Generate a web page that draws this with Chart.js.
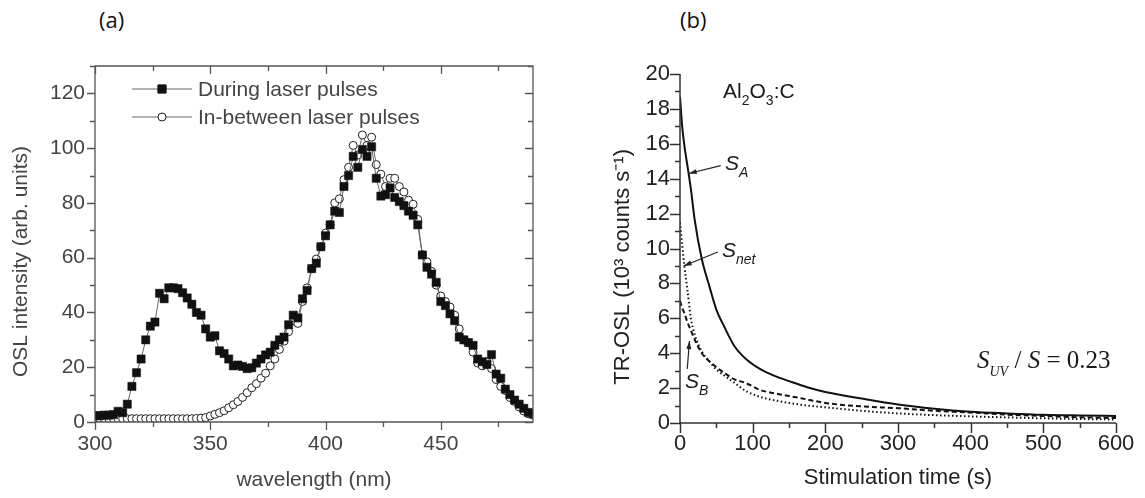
<!DOCTYPE html>
<html>
<head>
<meta charset="utf-8">
<script src="https://cdn.jsdelivr.net/npm/chart.js@4.4.1/dist/chart.umd.min.js"></script>
<style>
  body { margin: 0; background: #fff; width: 1145px; height: 498px; overflow: hidden; position: relative; font-family: "Liberation Sans", Arial, sans-serif; }
  canvas { position: absolute; top: 0; }
  #chartA { left: 0; }
  #chartB { left: 560px; }
  .panel { position: absolute; top: 4px; font-family: "Open Sans", sans-serif; font-size: 22px; color: #111; }
  .note { position: absolute; white-space: nowrap; line-height: 1; color: #1a1a1a; font-size: 21px; }
  .note .sub { position: relative; font-size: 14px; top: 7px; }
  .it { font-style: italic; }
  .serif { font-family: "Liberation Serif", "Times New Roman", serif; font-size: 25px; }
  .serif .sub { font-size: 14px; top: 8px; }
</style>
</head>
<body>
<div class="panel" style="left:99px">(a)</div>
<div class="panel" style="left:680px">(b)</div>

<canvas id="chartA" width="560" height="498"></canvas>
<canvas id="chartB" width="585" height="498"></canvas>

<div class="note" style="left:723px;top:80px">Al<span class="sub">2</span>O<span class="sub">3</span>:C</div>
<div class="note it" style="left:725px;top:152px">S<span class="sub">A</span></div>
<div class="note it" style="left:722px;top:239px">S<span class="sub">net</span></div>
<div class="note it" style="left:685px;top:370px">S<span class="sub">B</span></div>
<div class="note serif" style="left:977px;top:347px"><span class="it">S<span class="sub">UV</span></span> / <span class="it">S</span> = 0.23</div>

<script>
// (a) OSL emission spectrum
const wavelength = [300, 302, 304, 306, 308, 310, 312, 314, 316, 318, 320, 322, 324, 326, 328, 330, 332, 334, 336, 338,
  340, 342, 344, 346, 348, 350, 352, 354, 356, 358, 360, 362, 364, 366, 368, 370, 372, 374, 376, 378,
  380, 382, 384, 386, 388, 390, 392, 394, 396, 398, 400, 402, 404, 406, 408, 410, 412, 414, 416, 418,
  420, 422, 424, 426, 428, 430, 432, 434, 436, 438, 440, 442, 444, 446, 448, 450, 452, 454, 456, 458,
  460, 462, 464, 466, 468, 470, 472, 474, 476, 478, 480, 482, 484, 486, 488, 490];
const duringPulses = [2.3, 2.3, 2.5, 2.5, 2.7, 3.9, 3.4, 6.5, 13, 18, 23, 30, 35, 36.5, 47, 45, 49, 49, 48.7, 47.2,
  45.3, 43, 40, 39, 34, 31, 31.5, 26, 25, 23, 20.5, 20.8, 20.3, 19.5, 19.8, 21.5, 23, 24.5, 25.5, 28,
  30, 31, 35.5, 39, 38, 45, 48, 56, 58, 64, 68, 72, 77, 76.5, 86, 90, 97, 93, 99.5, 97,
  100.5, 89, 82.5, 83, 85.5, 82, 80.5, 79, 77, 75.5, 72, 61, 56.5, 54, 51, 44, 42.5, 39.5, 37, 31,
  30, 29, 28, 23, 22, 21, 24.6, 17.5, 16, 12, 10, 8, 6.5, 5, 3.5, 3];
const betweenPulses = [1.2, 1.2, 1.2, 1.2, 1.2, 1.2, 1.2, 1.2, 1.2, 1.2, 1.2, 1.2, 1.2, 1.2, 1.2, 1.2, 1.2, 1.2, 1.2, 1.2,
  1.2, 1.2, 1.3, 1.4, 1.6, 2.2, 2.8, 3.4, 4.1, 5.2, 6.3, 7.5, 9, 10.7, 12.5, 14, 16, 17.8, 20.5, 23,
  26.5, 29.5, 33, 37, 36, 44, 49, 56, 59.5, 64, 69, 72, 80, 81.5, 88.5, 93, 101, 97.5, 104.8, 101,
  104, 94, 90.5, 86, 89, 89, 86, 84, 81, 79.5, 74, 61, 58.5, 55, 50, 46, 44, 42, 39, 34,
  30, 29, 25.5, 21.5, 20.5, 22, 19.5, 15.5, 13, 11.5, 9, 7.5, 5.5, 4, 3, 2.5];
const yTicksA = [0, 20, 40, 60, 80, 100, 120];
const xTicksA = [300, 350, 400, 450];

// (b) TR-OSL decay curves
const stimTime = [0, 3, 6, 10, 15, 20, 30, 40, 50, 60, 75, 90, 110, 130, 150, 175, 200, 250, 300, 350, 400, 450, 500, 550, 600];
const signalA = [18.7, 17.0, 15.9, 14.8, 13.4, 11.7, 9.4, 7.9, 6.5, 5.6, 4.4, 3.7, 3.1, 2.7, 2.4, 2.05, 1.78, 1.4, 1.06, 0.82, 0.65, 0.55, 0.47, 0.43, 0.40];
const signalNet = [11.5, 10.2, 9.0, 7.7, 6.0, 5.1, 4.1, 3.55, 3.06, 2.75, 2.3, 1.85, 1.5, 1.3, 1.15, 1.0, 0.9, 0.7, 0.55, 0.45, 0.38, 0.32, 0.27, 0.23, 0.2];
const signalB = [7.0, 6.6, 6.3, 5.8, 5.3, 4.8, 4.0, 3.55, 3.2, 2.9, 2.5, 2.3, 1.9, 1.7, 1.55, 1.35, 1.15, 0.95, 0.85, 0.7, 0.6, 0.48, 0.4, 0.33, 0.28];

const toXY = (xs, ys) => xs.map((x, i) => ({ x: x, y: ys[i] }));

// axis lines and major/minor tick marks
const axisTicks = {
  id: 'axisTicks',
  afterDraw(chart, args, o) {
    const { ctx, chartArea: a } = chart;
    const sx = chart.scales.x, sy = chart.scales.y;
    ctx.save();
    ctx.strokeStyle = o.color;
    ctx.lineWidth = o.width;
    ctx.beginPath();
    if (o.box) {
      ctx.rect(a.left, a.top, a.right - a.left, a.bottom - a.top);
    } else {
      ctx.moveTo(a.left, a.top);
      ctx.lineTo(a.left, a.bottom);
      ctx.lineTo(a.right, a.bottom);
    }
    for (let v = sx.min; v <= sx.max + 1e-6; v += o.xStep) {
      const px = Math.round(sx.getPixelForValue(v)) + 0.5;
      const len = Math.abs(v % o.xMajor) < 1e-6 ? o.major : o.minor;
      ctx.moveTo(px, a.bottom);
      ctx.lineTo(px, a.bottom + len);
      if (o.box) { ctx.moveTo(px, a.top); ctx.lineTo(px, a.top + len); }
    }
    for (let v = sy.min; v <= sy.max + 1e-6; v += o.yStep) {
      const py = Math.round(sy.getPixelForValue(v)) + 0.5;
      const len = Math.abs(v % o.yMajor) < 1e-6 ? o.major : o.minor;
      ctx.moveTo(a.left, py);
      ctx.lineTo(a.left - len, py);
      if (o.box) { ctx.moveTo(a.right, py); ctx.lineTo(a.right - len, py); }
    }
    ctx.stroke();
    ctx.restore();
  }
};

// legend inside the plot of (a): line with marker, then label
const insideLegend = {
  id: 'insideLegend',
  afterDraw(chart, args, o) {
    if (!o.display) return;
    const ctx = chart.ctx;
    ctx.save();
    chart.data.datasets.forEach((ds, i) => {
      const y = o.y + i * o.gap;
      const cx = o.x + o.len / 2;
      ctx.strokeStyle = ds.borderColor;
      ctx.lineWidth = 1;
      ctx.beginPath();
      ctx.moveTo(o.x, y);
      ctx.lineTo(o.x + o.len, y);
      ctx.stroke();
      ctx.fillStyle = ds.pointBackgroundColor;
      ctx.strokeStyle = ds.pointBorderColor;
      ctx.beginPath();
      if (ds.pointStyle === 'rect') {
        const s = ds.pointRadius * Math.SQRT1_2;
        ctx.rect(cx - s, y - s, 2 * s, 2 * s);
      } else {
        ctx.arc(cx, y, ds.pointRadius, 0, Math.PI * 2);
      }
      ctx.fill();
      ctx.stroke();
      ctx.fillStyle = o.color;
      ctx.font = o.font;
      ctx.textBaseline = 'middle';
      ctx.fillText(ds.label, o.x + o.len + 6, y + 1);
    });
    ctx.restore();
  }
};

// arrows pointing from the labels to the curves in (b)
const arrows = {
  id: 'arrows',
  afterDraw(chart, args, o) {
    const ctx = chart.ctx, sx = chart.scales.x, sy = chart.scales.y;
    ctx.save();
    ctx.strokeStyle = o.color;
    ctx.fillStyle = o.color;
    ctx.lineWidth = 1.2;
    o.items.forEach(a => {
      const x0 = sx.getPixelForValue(a.from[0]), y0 = sy.getPixelForValue(a.from[1]);
      const x1 = sx.getPixelForValue(a.to[0]), y1 = sy.getPixelForValue(a.to[1]);
      const ang = Math.atan2(y1 - y0, x1 - x0);
      ctx.beginPath();
      ctx.moveTo(x0, y0);
      ctx.lineTo(x1, y1);
      ctx.stroke();
      ctx.beginPath();
      ctx.moveTo(x1, y1);
      ctx.lineTo(x1 - 8 * Math.cos(ang) + 2.5 * Math.sin(ang), y1 - 8 * Math.sin(ang) - 2.5 * Math.cos(ang));
      ctx.lineTo(x1 - 8 * Math.cos(ang) - 2.5 * Math.sin(ang), y1 - 8 * Math.sin(ang) + 2.5 * Math.cos(ang));
      ctx.closePath();
      ctx.fill();
    });
    ctx.restore();
  }
};

const fontA = { family: '"Liberation Sans", Arial, sans-serif', size: 21 };
const fontB = { family: '"Liberation Sans", Arial, sans-serif', size: 22 };
const pad = '\u00a0';

const chartA = new Chart(document.getElementById('chartA').getContext('2d'), {
  type: 'line',
  data: {
    datasets: [{
      label: 'During laser pulses',
      data: toXY(wavelength, duringPulses),
      borderColor: '#666',
      borderWidth: 1,
      pointStyle: 'rect',
      pointRadius: 5.8,
      pointBackgroundColor: '#111',
      pointBorderColor: '#111',
      pointBorderWidth: 0.5
    }, {
      label: 'In-between laser pulses',
      data: toXY(wavelength, betweenPulses),
      borderColor: '#666',
      borderWidth: 1,
      pointStyle: 'circle',
      pointRadius: 4,
      pointBackgroundColor: '#fff',
      pointBorderColor: '#222',
      pointBorderWidth: 1
    }]
  },
  options: {
    responsive: false,
    animation: false,
    layout: { padding: { top: 66, right: 27, left: 0, bottom: 0 } },
    scales: {
      x: {
        type: 'linear', min: 300, max: 490,
        afterFit: s => { s.height = 76; },
        afterBuildTicks: s => { s.ticks = xTicksA.map(v => ({ value: v })); },
        grid: { display: false, drawTicks: false },
        border: { display: false },
        ticks: { font: fontA, color: '#444', padding: 10, maxRotation: 0 },
        title: { display: true, text: 'wavelength (nm)', font: fontA, color: '#444', padding: { top: 0, bottom: 5 } }
      },
      y: {
        min: 0, max: 130,
        afterFit: s => { s.width = 95; },
        afterBuildTicks: s => { s.ticks = yTicksA.map(v => ({ value: v })); },
        grid: { display: false, drawTicks: false },
        border: { display: false },
        ticks: { font: fontA, color: '#444', padding: 10 },
        title: { display: true, text: 'OSL intensity (arb. units)' + pad.repeat(6), font: fontA, color: '#444', padding: { top: 9, bottom: 0 } }
      }
    },
    plugins: {
      legend: { display: false },
      tooltip: { enabled: false },
      axisTicks: { box: true, color: '#555', width: 1.3, xStep: 25, xMajor: 50, yStep: 10, yMajor: 20, major: 8, minor: 5 },
      insideLegend: { display: true, x: 132, y: 89, gap: 28, len: 60, font: '21px "Liberation Sans", Arial, sans-serif', color: '#444' }
    }
  },
  plugins: [axisTicks, insideLegend]
});

const chartB = new Chart(document.getElementById('chartB').getContext('2d'), {
  type: 'line',
  data: {
    datasets: [{
      label: 'S_A',
      data: toXY(stimTime, signalA),
      borderColor: '#111',
      borderWidth: 2,
      pointRadius: 0,
      cubicInterpolationMode: 'monotone'
    }, {
      label: 'S_net',
      data: toXY(stimTime, signalNet),
      borderColor: '#111',
      borderWidth: 2,
      borderDash: [1.5, 2.5],
      pointRadius: 0,
      cubicInterpolationMode: 'monotone'
    }, {
      label: 'S_B',
      data: toXY(stimTime, signalB),
      borderColor: '#111',
      borderWidth: 2,
      borderDash: [5, 3],
      pointRadius: 0,
      cubicInterpolationMode: 'monotone'
    }]
  },
  options: {
    responsive: false,
    animation: false,
    layout: { padding: { top: 74, right: 29, left: 0, bottom: 0 } },
    scales: {
      x: {
        type: 'linear', min: 0, max: 600,
        afterFit: s => { s.height = 75; },
        grid: { display: false, drawTicks: false },
        border: { display: false },
        ticks: { stepSize: 100, font: fontB, color: '#222', padding: 8, maxRotation: 0 },
        title: { display: true, text: 'Stimulation time (s)', font: fontB, color: '#222', padding: { top: 0, bottom: 7 } }
      },
      y: {
        min: 0, max: 20,
        afterFit: s => { s.width = 120; },
        grid: { display: false, drawTicks: false },
        border: { display: false },
        ticks: { stepSize: 2, font: fontB, color: '#222', padding: 10 },
        title: { display: true, text: 'TR-OSL (10\u00b3 counts s\u207b\u00b9)' + pad.repeat(6), font: fontB, color: '#222', padding: { top: 50, bottom: 0 } }
      }
    },
    plugins: {
      legend: { display: false },
      tooltip: { enabled: false },
      axisTicks: { box: false, color: '#333', width: 1.5, xStep: 50, xMajor: 100, yStep: 1, yMajor: 2, major: 10, minor: 5 },
      arrows: {
        color: '#222',
        items: [
          { from: [56, 14.75], to: [12, 14.3] },
          { from: [52, 9.8], to: [5, 9.0] },
          { from: [10, 3.1], to: [13, 4.7] }
        ]
      }
    }
  },
  plugins: [axisTicks, arrows]
});
</script>
</body>
</html>
